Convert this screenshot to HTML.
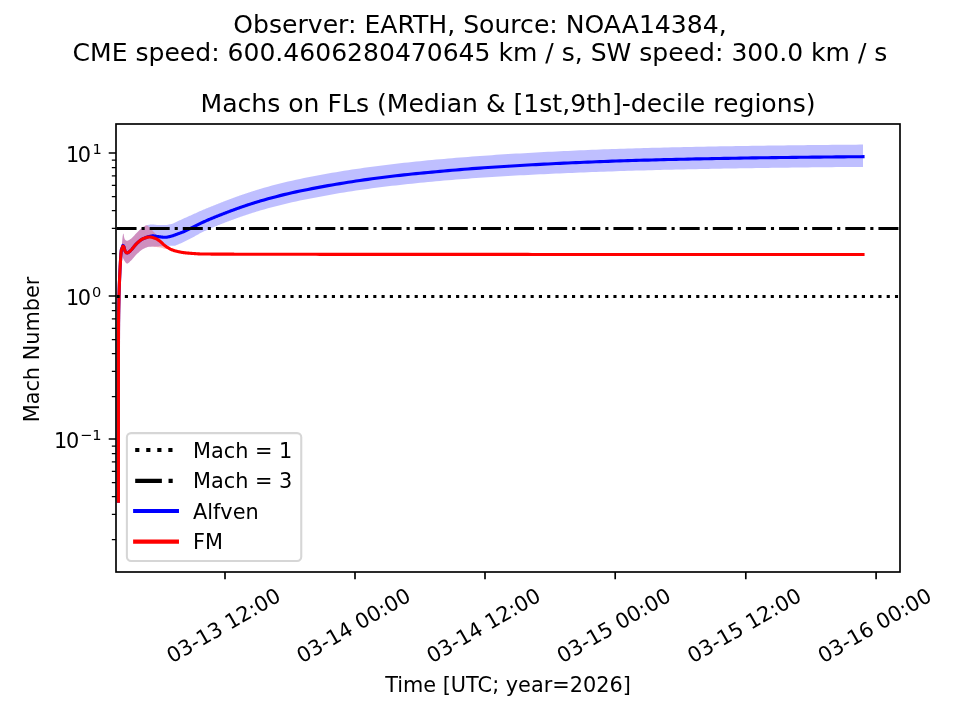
<!DOCTYPE html>
<html lang="en"><head><meta charset="utf-8"><title>Machs on FLs</title>
<style>html,body{margin:0;padding:0;background:#fff;overflow:hidden}svg{display:block}text{font-family:"DejaVu Sans","Liberation Sans",sans-serif;fill:#000}</style></head>
<body>
<svg width="960" height="720" viewBox="0 0 960 720">
<rect width="960" height="720" fill="#fff"/>
<defs><clipPath id="ax"><rect x="116.0" y="124.0" width="784.0" height="448.0"/></clipPath></defs>
<text x="480" y="33.2" font-size="25.1" text-anchor="middle">Observer: EARTH, Source: NOAA14384,</text>
<text x="480" y="61.2" font-size="25.06" text-anchor="middle">CME speed: 600.4606280470645 km / s, SW speed: 300.0 km / s</text>
<text x="508.00" y="111.8" font-size="25.1" text-anchor="middle">Machs on FLs (Median &amp; [1st,9th]-decile regions)</text>
<g clip-path="url(#ax)">
<path d="M121.60,249.00 L122.10,242.11 L122.60,237.10 L123.10,233.52 L123.60,234.23 L124.10,237.28 L124.60,239.04 L125.10,239.65 L125.60,240.14 L126.10,240.49 L126.60,240.70 L127.10,240.75 L127.60,240.68 L128.10,240.51 L128.60,240.28 L129.10,239.99 L129.60,239.67 L130.10,239.33 L130.60,239.00 L131.10,238.66 L131.60,238.27 L132.10,237.83 L132.60,237.35 L133.10,236.83 L133.60,236.29 L134.10,235.74 L134.60,235.17 L135.10,234.61 L135.60,234.05 L136.10,233.51 L136.60,232.99 L137.10,232.50 L137.60,232.02 L138.10,231.53 L138.60,231.04 L139.10,230.55 L139.60,230.06 L140.10,229.58 L140.60,229.11 L141.10,228.66 L141.60,228.23 L142.10,227.82 L142.60,227.44 L143.10,227.10 L143.60,226.78 L144.10,226.46 L144.60,226.15 L145.10,225.86 L145.60,225.60 L146.10,225.38 L146.60,225.20 L147.10,225.08 L147.60,224.98 L148.10,224.89 L148.60,224.81 L149.10,224.73 L149.60,224.66 L150.10,224.60 L150.60,224.56 L151.10,224.52 L151.60,224.51 L152.10,224.50 L152.60,224.51 L153.10,224.53 L153.60,224.57 L154.10,224.61 L154.60,224.67 L155.10,224.72 L155.60,224.78 L156.10,224.84 L156.60,224.90 L157.10,224.96 L157.60,225.00 L158.10,225.05 L158.60,225.08 L159.10,225.10 L159.60,225.10 L160.10,225.10 L160.60,225.10 L161.10,225.10 L161.60,225.10 L162.10,225.10 L162.60,225.10 L163.10,225.10 L163.60,225.10 L164.10,225.10 L164.60,225.10 L165.10,225.10 L165.60,225.10 L166.10,225.08 L166.60,225.01 L167.10,224.89 L167.60,224.76 L168.10,224.64 L168.60,224.54 L169.10,224.46 L169.60,224.37 L170.10,224.29 L170.60,224.20 L171.10,224.11 L171.60,224.00 L172.10,223.87 L172.60,223.71 L173.10,223.52 L173.60,223.29 L174.10,223.05 L174.60,222.79 L175.10,222.52 L175.60,222.25 L176.10,221.99 L176.60,221.75 L177.10,221.51 L177.60,221.28 L178.10,221.05 L178.60,220.82 L179.10,220.59 L179.60,220.36 L180.10,220.13 L180.60,219.90 L181.10,219.67 L181.60,219.44 L182.10,219.22 L182.60,218.99 L183.10,218.76 L183.60,218.53 L184.10,218.31 L184.60,218.08 L185.10,217.85 L185.60,217.63 L186.10,217.41 L186.60,217.18 L187.10,216.96 L187.60,216.74 L188.10,216.51 L188.60,216.29 L189.10,216.07 L189.60,215.85 L190.10,215.63 L190.60,215.40 L191.10,215.18 L191.60,214.96 L192.10,214.74 L192.60,214.51 L193.10,214.29 L193.60,214.06 L194.10,213.84 L194.60,213.61 L195.10,213.38 L195.60,213.15 L196.10,212.92 L196.60,212.69 L197.10,212.46 L197.60,212.24 L198.10,212.01 L198.60,211.78 L199.10,211.55 L199.60,211.33 L200.10,211.10 L200.60,210.88 L201.10,210.66 L201.60,210.44 L202.10,210.23 L202.60,210.01 L203.10,209.80 L203.60,209.59 L204.10,209.38 L204.60,209.17 L205.10,208.96 L205.60,208.76 L206.10,208.55 L206.60,208.35 L207.10,208.14 L207.60,207.94 L208.10,207.73 L208.60,207.53 L209.10,207.33 L209.60,207.13 L210.10,206.93 L210.60,206.73 L211.10,206.53 L211.60,206.33 L212.10,206.13 L212.60,205.93 L213.10,205.73 L213.60,205.53 L214.10,205.33 L214.60,205.13 L215.10,204.93 L215.60,204.73 L216.10,204.53 L216.60,204.33 L217.10,204.13 L217.60,203.93 L218.10,203.73 L218.60,203.53 L219.10,203.33 L219.60,203.14 L220.10,202.94 L220.60,202.74 L221.10,202.54 L221.60,202.34 L222.10,202.15 L222.60,201.95 L223.10,201.75 L223.60,201.56 L224.10,201.36 L224.60,201.17 L225.10,200.97 L225.60,200.78 L226.10,200.59 L226.60,200.40 L227.10,200.20 L227.60,200.01 L228.10,199.82 L228.60,199.63 L229.10,199.45 L229.60,199.26 L230.10,199.07 L230.60,198.89 L231.10,198.70 L231.60,198.51 L232.10,198.33 L232.60,198.14 L233.10,197.96 L233.60,197.78 L234.10,197.59 L234.60,197.41 L235.10,197.23 L235.60,197.05 L236.10,196.87 L236.60,196.69 L237.10,196.51 L237.60,196.33 L238.10,196.15 L238.60,195.97 L239.10,195.80 L239.60,195.62 L240.10,195.44 L240.60,195.27 L241.10,195.10 L241.60,194.92 L242.10,194.75 L242.60,194.58 L243.10,194.40 L243.60,194.23 L244.10,194.06 L244.60,193.89 L245.10,193.73 L245.60,193.56 L246.10,193.39 L246.60,193.22 L247.10,193.06 L247.60,192.89 L248.10,192.73 L248.60,192.56 L249.10,192.40 L249.60,192.24 L250.10,192.07 L250.60,191.91 L251.10,191.75 L251.60,191.59 L252.10,191.43 L252.60,191.27 L253.10,191.11 L253.60,190.95 L254.10,190.79 L254.60,190.64 L255.10,190.48 L255.60,190.32 L256.10,190.17 L256.60,190.02 L257.10,189.86 L257.60,189.71 L258.10,189.56 L258.60,189.41 L259.10,189.25 L259.60,189.11 L260.00,188.99 L264.00,187.81 L268.00,186.68 L272.00,185.59 L276.00,184.54 L280.00,183.52 L284.00,182.55 L288.00,181.60 L292.00,180.69 L296.00,179.80 L300.00,178.95 L304.00,178.12 L308.00,177.31 L312.00,176.52 L316.00,175.75 L320.00,175.00 L324.00,174.27 L328.00,173.55 L332.00,172.84 L336.00,172.16 L340.00,171.49 L344.00,170.83 L348.00,170.20 L352.00,169.58 L356.00,168.97 L360.00,168.39 L364.00,167.81 L368.00,167.25 L372.00,166.71 L376.00,166.18 L380.00,165.66 L384.00,165.16 L388.00,164.66 L392.00,164.18 L396.00,163.71 L400.00,163.26 L404.00,162.81 L408.00,162.38 L412.00,161.95 L416.00,161.54 L420.00,161.13 L424.00,160.74 L428.00,160.35 L432.00,159.97 L436.00,159.60 L440.00,159.24 L444.00,158.88 L448.00,158.53 L452.00,158.19 L456.00,157.86 L460.00,157.53 L464.00,157.21 L468.00,156.89 L472.00,156.58 L476.00,156.28 L480.00,155.99 L484.00,155.70 L488.00,155.42 L492.00,155.14 L496.00,154.87 L500.00,154.61 L504.00,154.35 L508.00,154.10 L512.00,153.85 L516.00,153.61 L520.00,153.38 L524.00,153.15 L528.00,152.92 L532.00,152.70 L536.00,152.48 L540.00,152.27 L544.00,152.06 L548.00,151.85 L552.00,151.65 L556.00,151.45 L560.00,151.26 L564.00,151.07 L568.00,150.88 L572.00,150.70 L576.00,150.52 L580.00,150.34 L584.00,150.17 L588.00,150.00 L592.00,149.84 L596.00,149.68 L600.00,149.53 L604.00,149.37 L608.00,149.23 L612.00,149.08 L616.00,148.94 L620.00,148.81 L624.00,148.68 L628.00,148.55 L632.00,148.43 L636.00,148.31 L640.00,148.19 L644.00,148.08 L648.00,147.97 L652.00,147.86 L656.00,147.76 L660.00,147.66 L664.00,147.56 L668.00,147.46 L672.00,147.36 L676.00,147.27 L680.00,147.18 L684.00,147.09 L688.00,147.00 L692.00,146.91 L696.00,146.83 L700.00,146.75 L704.00,146.67 L708.00,146.59 L712.00,146.51 L716.00,146.44 L720.00,146.36 L724.00,146.29 L728.00,146.22 L732.00,146.15 L736.00,146.09 L740.00,146.02 L744.00,145.96 L748.00,145.89 L752.00,145.83 L756.00,145.77 L760.00,145.71 L764.00,145.65 L768.00,145.60 L772.00,145.54 L776.00,145.49 L780.00,145.44 L784.00,145.39 L788.00,145.34 L792.00,145.29 L796.00,145.24 L800.00,145.19 L804.00,145.15 L808.00,145.10 L812.00,145.06 L816.00,145.01 L820.00,144.97 L824.00,144.93 L828.00,144.89 L832.00,144.85 L836.00,144.81 L840.00,144.78 L844.00,144.74 L848.00,144.71 L852.00,144.67 L856.00,144.64 L860.00,144.60 L863.00,144.58 L863.00,166.88 L860.00,166.90 L856.00,166.94 L852.00,166.97 L848.00,167.01 L844.00,167.04 L840.00,167.08 L836.00,167.11 L832.00,167.15 L828.00,167.19 L824.00,167.23 L820.00,167.27 L816.00,167.31 L812.00,167.36 L808.00,167.40 L804.00,167.45 L800.00,167.49 L796.00,167.54 L792.00,167.59 L788.00,167.64 L784.00,167.69 L780.00,167.74 L776.00,167.79 L772.00,167.84 L768.00,167.90 L764.00,167.95 L760.00,168.01 L756.00,168.07 L752.00,168.13 L748.00,168.19 L744.00,168.26 L740.00,168.32 L736.00,168.39 L732.00,168.45 L728.00,168.52 L724.00,168.59 L720.00,168.66 L716.00,168.74 L712.00,168.81 L708.00,168.89 L704.00,168.97 L700.00,169.05 L696.00,169.13 L692.00,169.21 L688.00,169.30 L684.00,169.39 L680.00,169.48 L676.00,169.57 L672.00,169.66 L668.00,169.76 L664.00,169.86 L660.00,169.96 L656.00,170.06 L652.00,170.16 L648.00,170.27 L644.00,170.38 L640.00,170.49 L636.00,170.61 L632.00,170.73 L628.00,170.85 L624.00,170.98 L620.00,171.11 L616.00,171.24 L612.00,171.38 L608.00,171.52 L604.00,171.66 L600.00,171.81 L596.00,171.95 L592.00,172.10 L588.00,172.26 L584.00,172.41 L580.00,172.57 L576.00,172.73 L572.00,172.90 L568.00,173.07 L564.00,173.24 L560.00,173.41 L556.00,173.59 L552.00,173.77 L548.00,173.95 L544.00,174.14 L540.00,174.33 L536.00,174.53 L532.00,174.73 L528.00,174.93 L524.00,175.13 L520.00,175.35 L516.00,175.56 L512.00,175.78 L508.00,176.01 L504.00,176.25 L500.00,176.49 L496.00,176.73 L492.00,176.98 L488.00,177.24 L484.00,177.51 L480.00,177.78 L476.00,178.06 L472.00,178.35 L468.00,178.65 L464.00,178.95 L460.00,179.26 L456.00,179.58 L452.00,179.91 L448.00,180.24 L444.00,180.59 L440.00,180.94 L436.00,181.30 L432.00,181.66 L428.00,182.04 L424.00,182.43 L420.00,182.82 L416.00,183.22 L412.00,183.63 L408.00,184.05 L404.00,184.48 L400.00,184.93 L396.00,185.38 L392.00,185.85 L388.00,186.32 L384.00,186.81 L380.00,187.32 L376.00,187.83 L372.00,188.36 L368.00,188.90 L364.00,189.46 L360.00,190.03 L356.00,190.62 L352.00,191.22 L348.00,191.83 L344.00,192.47 L340.00,193.12 L336.00,193.79 L332.00,194.47 L328.00,195.17 L324.00,195.89 L320.00,196.63 L316.00,197.38 L312.00,198.14 L308.00,198.92 L304.00,199.73 L300.00,200.56 L296.00,201.42 L292.00,202.30 L288.00,203.21 L284.00,204.16 L280.00,205.13 L276.00,206.14 L272.00,207.19 L268.00,208.29 L264.00,209.42 L260.00,210.59 L259.60,210.71 L259.10,210.86 L258.60,211.01 L258.10,211.16 L257.60,211.31 L257.10,211.47 L256.60,211.62 L256.10,211.77 L255.60,211.93 L255.10,212.08 L254.60,212.24 L254.10,212.40 L253.60,212.55 L253.10,212.71 L252.60,212.87 L252.10,213.03 L251.60,213.19 L251.10,213.35 L250.60,213.51 L250.10,213.68 L249.60,213.84 L249.10,214.00 L248.60,214.17 L248.10,214.33 L247.60,214.50 L247.10,214.66 L246.60,214.83 L246.10,214.99 L245.60,215.16 L245.10,215.33 L244.60,215.50 L244.10,215.67 L243.60,215.84 L243.10,216.01 L242.60,216.18 L242.10,216.35 L241.60,216.52 L241.10,216.70 L240.60,216.87 L240.10,217.05 L239.60,217.22 L239.10,217.40 L238.60,217.58 L238.10,217.75 L237.60,217.93 L237.10,218.11 L236.60,218.29 L236.10,218.47 L235.60,218.65 L235.10,218.83 L234.60,219.01 L234.10,219.20 L233.60,219.38 L233.10,219.56 L232.60,219.75 L232.10,219.93 L231.60,220.11 L231.10,220.30 L230.60,220.49 L230.10,220.67 L229.60,220.86 L229.10,221.05 L228.60,221.23 L228.10,221.42 L227.60,221.61 L227.10,221.80 L226.60,221.99 L226.10,222.17 L225.60,222.36 L225.10,222.56 L224.60,222.75 L224.10,222.94 L223.60,223.13 L223.10,223.32 L222.60,223.52 L222.10,223.71 L221.60,223.91 L221.10,224.10 L220.60,224.30 L220.10,224.50 L219.60,224.70 L219.10,224.90 L218.60,225.10 L218.10,225.30 L217.60,225.50 L217.10,225.70 L216.60,225.91 L216.10,226.11 L215.60,226.32 L215.10,226.53 L214.60,226.74 L214.10,226.95 L213.60,227.15 L213.10,227.36 L212.60,227.58 L212.10,227.79 L211.60,228.00 L211.10,228.21 L210.60,228.43 L210.10,228.64 L209.60,228.86 L209.10,229.08 L208.60,229.29 L208.10,229.51 L207.60,229.74 L207.10,229.96 L206.60,230.19 L206.10,230.41 L205.60,230.64 L205.10,230.87 L204.60,231.10 L204.10,231.34 L203.60,231.58 L203.10,231.82 L202.60,232.06 L202.10,232.30 L201.60,232.55 L201.10,232.80 L200.60,233.06 L200.10,233.33 L199.60,233.60 L199.10,233.87 L198.60,234.15 L198.10,234.43 L197.60,234.71 L197.10,234.99 L196.60,235.28 L196.10,235.56 L195.60,235.84 L195.10,236.12 L194.60,236.40 L194.10,236.67 L193.60,236.94 L193.10,237.21 L192.60,237.47 L192.10,237.73 L191.60,237.99 L191.10,238.25 L190.60,238.51 L190.10,238.77 L189.60,239.02 L189.10,239.28 L188.60,239.53 L188.10,239.78 L187.60,240.03 L187.10,240.28 L186.60,240.53 L186.10,240.77 L185.60,241.01 L185.10,241.25 L184.60,241.49 L184.10,241.73 L183.60,241.97 L183.10,242.21 L182.60,242.45 L182.10,242.68 L181.60,242.92 L181.10,243.15 L180.60,243.38 L180.10,243.61 L179.60,243.83 L179.10,244.05 L178.60,244.26 L178.10,244.46 L177.60,244.66 L177.10,244.85 L176.60,245.04 L176.10,245.24 L175.60,245.45 L175.10,245.64 L174.60,245.76 L174.10,245.80 L173.60,245.80 L173.10,245.80 L172.60,245.80 L172.10,245.80 L171.60,245.80 L171.10,245.80 L170.60,245.80 L170.10,245.80 L169.60,245.80 L169.10,245.80 L168.60,245.80 L168.10,245.80 L167.60,245.81 L167.10,245.83 L166.60,245.85 L166.10,245.88 L165.60,245.92 L165.10,245.96 L164.60,246.00 L164.10,246.05 L163.60,246.09 L163.10,246.13 L162.60,246.16 L162.10,246.19 L161.60,246.22 L161.10,246.25 L160.60,246.28 L160.10,246.30 L159.60,246.33 L159.10,246.35 L158.60,246.38 L158.10,246.40 L157.60,246.42 L157.10,246.44 L156.60,246.47 L156.10,246.49 L155.60,246.51 L155.10,246.52 L154.60,246.54 L154.10,246.55 L153.60,246.56 L153.10,246.57 L152.60,246.58 L152.10,246.60 L151.60,246.61 L151.10,246.63 L150.60,246.65 L150.10,246.67 L149.60,246.69 L149.10,246.73 L148.60,246.81 L148.10,246.91 L147.60,247.04 L147.10,247.20 L146.60,247.38 L146.10,247.57 L145.60,247.79 L145.10,248.01 L144.60,248.24 L144.10,248.48 L143.60,248.73 L143.10,248.98 L142.60,249.25 L142.10,249.56 L141.60,249.90 L141.10,250.27 L140.60,250.67 L140.10,251.08 L139.60,251.51 L139.10,251.96 L138.60,252.41 L138.10,252.88 L137.60,253.34 L137.10,253.81 L136.60,254.28 L136.10,254.80 L135.60,255.34 L135.10,255.91 L134.60,256.49 L134.10,257.09 L133.60,257.68 L133.10,258.27 L132.60,258.85 L132.10,259.41 L131.60,259.94 L131.10,260.43 L130.60,260.89 L130.10,261.37 L129.60,261.88 L129.10,262.38 L128.60,262.83 L128.10,263.21 L127.60,263.48 L127.10,263.60 L126.60,263.48 L126.10,263.06 L125.60,262.41 L125.10,261.66 L124.60,260.90 L124.10,260.18 L123.60,259.36 L123.10,258.27 L122.60,256.46 L122.10,253.58 L121.60,250.00Z" fill="#0000ff" fill-opacity="0.25"/>
<path d="M121.60,249.00 L122.10,242.11 L122.60,237.10 L123.10,233.52 L123.60,234.23 L124.10,237.28 L124.60,239.04 L125.10,239.65 L125.60,240.14 L126.10,240.49 L126.60,240.70 L127.10,240.75 L127.60,240.68 L128.10,240.51 L128.60,240.28 L129.10,239.99 L129.60,239.67 L130.10,239.33 L130.60,239.00 L131.10,238.66 L131.60,238.27 L132.10,237.83 L132.60,237.35 L133.10,236.83 L133.60,236.29 L134.10,235.74 L134.60,235.17 L135.10,234.61 L135.60,234.05 L136.10,233.51 L136.60,232.99 L137.10,232.50 L137.60,232.02 L138.10,231.53 L138.60,231.04 L139.10,230.55 L139.60,230.06 L140.10,229.58 L140.60,229.11 L141.10,228.66 L141.60,228.23 L142.10,227.82 L142.60,227.44 L143.10,227.10 L143.60,226.78 L144.10,226.46 L144.60,226.15 L145.10,225.86 L145.60,225.60 L146.10,225.38 L146.60,225.20 L147.00,225.30 L147.50,225.72 L148.00,226.14 L148.50,226.59 L149.00,227.04 L149.50,227.50 L150.00,227.98 L150.50,228.46 L151.00,228.97 L151.50,229.48 L152.00,230.00 L152.50,230.53 L153.00,231.08 L153.50,231.63 L154.00,232.20 L154.50,232.77 L155.00,233.34 L155.50,233.91 L156.00,234.49 L156.50,235.08 L157.00,235.68 L157.50,236.28 L158.00,236.87 L158.50,237.45 L159.00,238.00 L159.50,238.52 L160.00,239.02 L160.50,239.50 L161.00,239.98 L161.50,240.48 L162.00,241.00 L162.50,241.56 L163.00,242.14 L163.50,242.74 L164.00,243.35 L164.50,243.94 L165.00,244.50 L165.50,245.04 L166.00,245.58 L166.50,246.10 L167.00,246.61 L167.50,247.12 L168.00,247.61 L168.00,249.00 L167.50,248.99 L167.00,248.98 L166.50,248.97 L166.00,248.95 L165.50,248.93 L165.00,248.90 L164.50,248.82 L164.00,248.66 L163.50,248.46 L163.00,248.24 L162.50,248.04 L162.00,247.90 L161.50,247.80 L161.00,247.70 L160.50,247.61 L160.00,247.52 L159.50,247.44 L159.00,247.36 L158.50,247.29 L158.00,247.22 L157.50,247.16 L157.00,247.11 L156.50,247.06 L156.00,247.02 L155.50,246.98 L155.00,246.95 L154.50,246.91 L154.00,246.88 L153.50,246.84 L153.00,246.81 L152.50,246.79 L152.00,246.76 L151.50,246.74 L151.00,246.72 L150.50,246.71 L150.00,246.70 L149.50,246.70 L149.10,246.73 L148.60,246.81 L148.10,246.91 L147.60,247.04 L147.10,247.20 L146.60,247.38 L146.10,247.57 L145.60,247.79 L145.10,248.01 L144.60,248.24 L144.10,248.48 L143.60,248.73 L143.10,248.98 L142.60,249.25 L142.10,249.56 L141.60,249.90 L141.10,250.27 L140.60,250.67 L140.10,251.08 L139.60,251.51 L139.10,251.96 L138.60,252.41 L138.10,252.88 L137.60,253.34 L137.10,253.81 L136.60,254.28 L136.10,254.80 L135.60,255.34 L135.10,255.91 L134.60,256.49 L134.10,257.09 L133.60,257.68 L133.10,258.27 L132.60,258.85 L132.10,259.41 L131.60,259.94 L131.10,260.43 L130.60,260.89 L130.10,261.37 L129.60,261.88 L129.10,262.38 L128.60,262.83 L128.10,263.21 L127.60,263.48 L127.10,263.60 L126.60,263.48 L126.10,263.06 L125.60,262.41 L125.10,261.66 L124.60,260.90 L124.10,260.18 L123.60,259.36 L123.10,258.27 L122.60,256.46 L122.10,253.58 L121.60,250.00Z" fill="#ff0000" fill-opacity="0.25"/>
<path d="M118.40,501.30 L118.40,496.97 L118.40,492.63 L118.40,488.30 L118.40,483.96 L118.40,479.63 L118.40,475.29 L118.40,470.96 L118.40,466.63 L118.40,462.29 L118.40,457.96 L118.40,453.62 L118.40,449.29 L118.40,444.96 L118.40,440.62 L118.40,436.29 L118.40,431.95 L118.40,427.62 L118.40,423.28 L118.40,418.95 L118.40,414.62 L118.40,410.28 L118.40,405.95 L118.40,401.61 L118.40,397.28 L118.40,392.95 L118.40,388.61 L118.40,384.28 L118.40,379.94 L118.40,375.61 L118.40,371.27 L118.41,366.94 L118.41,362.61 L118.42,358.27 L118.43,353.94 L118.44,349.60 L118.45,345.27 L118.46,340.94 L118.48,336.60 L118.49,332.27 L118.51,327.93 L118.54,323.60 L118.59,319.26 L118.64,314.93 L118.71,310.60 L118.79,306.26 L118.88,301.93 L118.97,297.60 L119.07,293.26 L119.20,288.93 L119.35,284.60 L119.53,280.27 L119.72,275.94 L119.92,271.61 L120.13,267.28 L120.37,262.95 L120.64,258.61 L120.93,254.25 L121.34,249.85 L122.90,245.40 L123.40,245.77 L123.90,246.65 L124.40,248.78 L124.90,250.53 L125.40,251.69 L125.90,252.27 L126.40,252.69 L126.90,252.89 L127.40,252.84 L127.90,252.66 L128.40,252.40 L128.90,252.12 L129.40,251.73 L129.90,251.25 L130.40,250.75 L130.90,250.25 L131.40,249.73 L131.90,249.17 L132.40,248.58 L132.90,247.98 L133.40,247.36 L133.90,246.74 L134.40,246.12 L134.90,245.51 L135.40,244.92 L135.90,244.35 L136.40,243.83 L136.90,243.34 L137.40,242.89 L137.90,242.44 L138.40,241.99 L138.90,241.55 L139.40,241.11 L139.90,240.70 L140.40,240.30 L140.90,239.93 L141.40,239.58 L141.90,239.27 L142.40,238.99 L142.90,238.74 L143.40,238.54 L143.90,238.35 L144.40,238.17 L144.90,237.98 L145.40,237.81 L145.90,237.65 L146.00,237.50 L146.50,237.32 L147.00,237.14 L147.50,236.97 L148.00,236.81 L148.50,236.65 L149.00,236.52 L149.50,236.40 L150.00,236.29 L150.50,236.18 L151.00,236.08 L151.50,235.99 L152.00,235.93 L152.50,235.90 L153.00,235.91 L153.50,235.93 L154.00,235.97 L154.50,236.03 L155.00,236.10 L155.50,236.17 L156.00,236.25 L156.50,236.34 L157.00,236.42 L157.50,236.51 L158.00,236.58 L158.50,236.65 L159.00,236.71 L159.50,236.77 L160.00,236.83 L160.50,236.90 L161.00,236.96 L161.50,237.03 L162.00,237.09 L162.50,237.15 L163.00,237.20 L163.50,237.24 L164.00,237.27 L164.50,237.29 L165.00,237.30 L165.50,237.29 L166.00,237.25 L166.50,237.19 L167.00,237.12 L167.50,237.03 L168.00,236.93 L168.50,236.83 L169.00,236.72 L169.50,236.61 L170.00,236.50 L170.50,236.39 L171.00,236.26 L171.50,236.12 L172.00,235.97 L172.50,235.82 L173.00,235.65 L173.50,235.48 L174.00,235.30 L174.50,235.12 L175.00,234.93 L175.50,234.75 L176.00,234.56 L176.50,234.38 L177.00,234.20 L177.50,234.02 L178.00,233.84 L178.50,233.65 L179.00,233.47 L179.50,233.29 L180.00,233.10 L180.50,232.91 L181.00,232.72 L181.50,232.53 L182.00,232.34 L182.50,232.14 L183.00,231.94 L183.50,231.73 L184.00,231.53 L184.50,231.31 L185.00,231.10 L185.50,230.88 L186.00,230.65 L186.50,230.42 L187.00,230.18 L187.50,229.94 L188.00,229.70 L188.50,229.45 L189.00,229.19 L189.50,228.94 L190.00,228.68 L190.50,228.42 L191.00,228.16 L191.50,227.90 L192.00,227.65 L192.50,227.39 L193.00,227.14 L193.50,226.88 L194.00,226.63 L194.50,226.37 L195.00,226.12 L195.50,225.86 L196.00,225.61 L196.50,225.36 L197.00,225.10 L197.50,224.85 L198.00,224.60 L198.50,224.35 L199.00,224.10 L199.50,223.86 L200.00,223.62 L200.50,223.38 L201.00,223.14 L201.50,222.91 L202.00,222.67 L202.50,222.44 L203.00,222.21 L203.50,221.98 L204.00,221.76 L204.50,221.53 L205.00,221.31 L205.50,221.08 L206.00,220.86 L206.50,220.64 L207.00,220.42 L207.50,220.20 L208.00,219.99 L208.50,219.77 L209.00,219.56 L209.50,219.34 L210.00,219.13 L210.50,218.92 L211.00,218.71 L211.50,218.50 L212.00,218.30 L212.50,218.09 L213.00,217.88 L213.50,217.68 L214.00,217.48 L214.50,217.27 L215.00,217.07 L215.50,216.87 L216.00,216.67 L216.50,216.47 L217.00,216.27 L217.50,216.07 L218.00,215.87 L218.50,215.67 L219.00,215.47 L219.50,215.27 L220.00,215.07 L220.50,214.88 L221.00,214.68 L221.50,214.48 L222.00,214.29 L222.50,214.09 L223.00,213.90 L223.50,213.70 L224.00,213.51 L224.50,213.31 L225.00,213.12 L225.50,212.93 L226.00,212.73 L226.50,212.54 L227.00,212.35 L227.50,212.16 L228.00,211.97 L228.50,211.78 L229.00,211.59 L229.50,211.40 L230.00,211.21 L230.50,211.02 L231.00,210.83 L231.50,210.65 L232.00,210.46 L232.50,210.28 L233.00,210.09 L233.50,209.91 L234.00,209.73 L234.50,209.54 L235.00,209.36 L235.50,209.18 L236.00,209.00 L236.50,208.82 L237.00,208.64 L237.50,208.46 L238.00,208.28 L238.50,208.11 L239.00,207.93 L239.50,207.75 L240.00,207.58 L240.50,207.40 L241.00,207.23 L241.50,207.06 L242.00,206.88 L242.50,206.71 L243.00,206.54 L243.50,206.37 L244.00,206.20 L244.50,206.03 L245.00,205.86 L245.50,205.69 L246.00,205.52 L246.50,205.36 L247.00,205.19 L247.50,205.02 L248.00,204.86 L248.50,204.69 L249.00,204.53 L249.50,204.37 L250.00,204.20 L250.50,204.04 L251.00,203.88 L251.50,203.72 L252.00,203.56 L252.50,203.40 L253.00,203.24 L253.50,203.08 L254.00,202.93 L254.50,202.77 L255.00,202.61 L255.50,202.46 L256.00,202.30 L256.50,202.15 L257.00,201.99 L257.50,201.84 L258.00,201.69 L258.50,201.54 L259.00,201.39 L259.50,201.24 L260.00,201.09 L264.00,199.91 L268.00,198.78 L272.00,197.69 L276.00,196.64 L280.00,195.62 L284.00,194.64 L288.00,193.70 L292.00,192.79 L296.00,191.90 L300.00,191.05 L304.00,190.21 L308.00,189.41 L312.00,188.62 L316.00,187.85 L320.00,187.10 L324.00,186.37 L328.00,185.65 L332.00,184.94 L336.00,184.26 L340.00,183.59 L344.00,182.93 L348.00,182.30 L352.00,181.68 L356.00,181.07 L360.00,180.49 L364.00,179.91 L368.00,179.35 L372.00,178.81 L376.00,178.28 L380.00,177.76 L384.00,177.26 L388.00,176.76 L392.00,176.28 L396.00,175.81 L400.00,175.36 L404.00,174.91 L408.00,174.48 L412.00,174.05 L416.00,173.64 L420.00,173.23 L424.00,172.84 L428.00,172.45 L432.00,172.07 L436.00,171.70 L440.00,171.34 L444.00,170.98 L448.00,170.63 L452.00,170.29 L456.00,169.96 L460.00,169.63 L464.00,169.31 L468.00,168.99 L472.00,168.68 L476.00,168.38 L480.00,168.09 L484.00,167.80 L488.00,167.52 L492.00,167.24 L496.00,166.97 L500.00,166.71 L504.00,166.45 L508.00,166.20 L512.00,165.95 L516.00,165.71 L520.00,165.48 L524.00,165.25 L528.00,165.02 L532.00,164.80 L536.00,164.58 L540.00,164.37 L544.00,164.16 L548.00,163.95 L552.00,163.75 L556.00,163.55 L560.00,163.36 L564.00,163.17 L568.00,162.98 L572.00,162.80 L576.00,162.62 L580.00,162.44 L584.00,162.27 L588.00,162.10 L592.00,161.94 L596.00,161.78 L600.00,161.63 L604.00,161.47 L608.00,161.33 L612.00,161.18 L616.00,161.04 L620.00,160.91 L624.00,160.78 L628.00,160.65 L632.00,160.53 L636.00,160.41 L640.00,160.29 L644.00,160.18 L648.00,160.07 L652.00,159.96 L656.00,159.86 L660.00,159.76 L664.00,159.66 L668.00,159.56 L672.00,159.46 L676.00,159.37 L680.00,159.28 L684.00,159.19 L688.00,159.10 L692.00,159.01 L696.00,158.93 L700.00,158.85 L704.00,158.77 L708.00,158.69 L712.00,158.61 L716.00,158.54 L720.00,158.46 L724.00,158.39 L728.00,158.32 L732.00,158.25 L736.00,158.19 L740.00,158.12 L744.00,158.06 L748.00,157.99 L752.00,157.93 L756.00,157.87 L760.00,157.81 L764.00,157.75 L768.00,157.70 L772.00,157.64 L776.00,157.59 L780.00,157.54 L784.00,157.49 L788.00,157.44 L792.00,157.39 L796.00,157.34 L800.00,157.29 L804.00,157.25 L808.00,157.20 L812.00,157.16 L816.00,157.11 L820.00,157.07 L824.00,157.03 L828.00,156.99 L832.00,156.95 L836.00,156.91 L840.00,156.88 L844.00,156.84 L848.00,156.81 L852.00,156.77 L856.00,156.74 L860.00,156.70 L863.00,156.68" fill="none" stroke="#0000ff" stroke-width="3.125" stroke-linecap="square" stroke-linejoin="round"/>
<path d="M118.40,501.30 L118.40,496.97 L118.40,492.63 L118.40,488.30 L118.40,483.96 L118.40,479.63 L118.40,475.29 L118.40,470.96 L118.40,466.63 L118.40,462.29 L118.40,457.96 L118.40,453.62 L118.40,449.29 L118.40,444.96 L118.40,440.62 L118.40,436.29 L118.40,431.95 L118.40,427.62 L118.40,423.28 L118.40,418.95 L118.40,414.62 L118.40,410.28 L118.40,405.95 L118.40,401.61 L118.40,397.28 L118.40,392.95 L118.40,388.61 L118.40,384.28 L118.40,379.94 L118.40,375.61 L118.40,371.27 L118.41,366.94 L118.41,362.61 L118.42,358.27 L118.43,353.94 L118.44,349.60 L118.45,345.27 L118.46,340.94 L118.48,336.60 L118.49,332.27 L118.51,327.93 L118.54,323.60 L118.59,319.26 L118.64,314.93 L118.71,310.60 L118.79,306.26 L118.88,301.93 L118.97,297.60 L119.07,293.26 L119.20,288.93 L119.35,284.60 L119.53,280.27 L119.72,275.94 L119.92,271.61 L120.13,267.28 L120.37,262.95 L120.64,258.63 L120.93,254.30 L121.34,249.98 L122.90,246.10 L123.40,246.36 L123.90,247.00 L124.40,248.93 L124.90,250.57 L125.40,251.70 L125.90,252.27 L126.40,252.69 L126.90,252.89 L127.40,252.84 L127.90,252.66 L128.40,252.40 L128.90,252.12 L129.40,251.73 L129.90,251.25 L130.40,250.75 L130.90,250.25 L131.40,249.73 L131.90,249.17 L132.40,248.58 L132.90,247.98 L133.40,247.36 L133.90,246.74 L134.40,246.12 L134.90,245.51 L135.40,244.92 L135.90,244.35 L136.40,243.83 L136.90,243.34 L137.40,242.89 L137.90,242.44 L138.40,241.99 L138.90,241.55 L139.40,241.11 L139.90,240.70 L140.40,240.30 L140.90,239.93 L141.40,239.58 L141.90,239.27 L142.40,238.99 L142.90,238.74 L143.40,238.54 L143.90,238.35 L144.40,238.17 L144.90,237.98 L145.40,237.81 L145.90,237.65 L146.40,237.50 L146.90,237.36 L147.40,237.24 L147.90,237.14 L148.40,237.07 L148.90,237.02 L149.40,237.00 L149.90,237.01 L150.40,237.05 L150.90,237.11 L151.40,237.20 L151.90,237.31 L152.40,237.44 L152.90,237.59 L153.40,237.75 L153.90,237.92 L154.40,238.10 L154.90,238.28 L155.40,238.47 L155.90,238.66 L156.40,238.88 L156.90,239.15 L157.40,239.45 L157.90,239.77 L158.40,240.12 L158.90,240.48 L159.40,240.85 L159.90,241.23 L160.40,241.61 L160.90,242.03 L161.40,242.47 L161.90,242.94 L162.40,243.41 L162.90,243.88 L163.40,244.33 L163.90,244.76 L164.40,245.16 L164.90,245.54 L165.40,245.93 L165.90,246.30 L166.40,246.66 L166.90,247.01 L167.40,247.34 L167.90,247.66 L168.40,247.96 L168.90,248.25 L169.40,248.53 L169.90,248.80 L170.40,249.06 L170.90,249.30 L171.40,249.54 L171.90,249.76 L172.40,249.96 L172.90,250.15 L173.40,250.33 L173.90,250.50 L174.40,250.66 L174.90,250.82 L175.40,250.96 L175.90,251.10 L176.40,251.23 L176.90,251.35 L177.40,251.46 L177.90,251.57 L178.40,251.68 L178.90,251.79 L179.40,251.89 L179.90,251.99 L180.40,252.09 L180.90,252.18 L181.40,252.27 L181.90,252.36 L182.40,252.44 L182.90,252.52 L183.40,252.59 L183.90,252.66 L184.40,252.73 L184.90,252.79 L185.40,252.85 L185.90,252.90 L186.40,252.95 L186.90,253.00 L187.40,253.05 L187.90,253.09 L188.40,253.14 L188.90,253.18 L189.40,253.22 L189.90,253.26 L190.40,253.29 L190.90,253.33 L191.40,253.37 L191.90,253.40 L192.40,253.44 L192.90,253.47 L193.40,253.51 L193.90,253.54 L194.40,253.58 L194.90,253.62 L195.40,253.66 L195.90,253.70 L196.40,253.73 L196.90,253.77 L197.40,253.81 L197.90,253.84 L198.40,253.87 L198.90,253.90 L199.40,253.93 L199.90,253.95 L200.40,253.97 L200.90,253.99 L201.40,254.00 L201.90,254.00 L202.40,254.01 L202.90,254.01 L203.40,254.01 L203.90,254.02 L204.40,254.02 L204.90,254.02 L205.40,254.03 L205.90,254.03 L206.40,254.03 L206.90,254.04 L207.40,254.04 L207.90,254.05 L208.40,254.05 L208.90,254.05 L209.40,254.06 L209.90,254.06 L210.40,254.06 L210.90,254.07 L211.40,254.07 L211.90,254.07 L212.40,254.08 L212.90,254.08 L213.40,254.08 L213.90,254.08 L214.40,254.09 L214.90,254.09 L215.40,254.09 L215.90,254.10 L216.40,254.10 L216.90,254.10 L217.40,254.11 L217.90,254.11 L218.40,254.11 L218.90,254.11 L219.40,254.12 L219.90,254.12 L220.40,254.12 L220.90,254.12 L221.40,254.13 L221.90,254.13 L222.40,254.13 L222.90,254.13 L223.40,254.14 L223.90,254.14 L224.40,254.14 L224.90,254.14 L225.40,254.15 L225.90,254.15 L226.40,254.15 L226.90,254.15 L227.40,254.16 L227.90,254.16 L228.40,254.16 L228.90,254.16 L229.40,254.16 L229.90,254.17 L230.40,254.17 L230.90,254.17 L231.40,254.17 L231.90,254.18 L232.40,254.18 L232.90,254.18 L233.40,254.18 L233.90,254.18 L234.40,254.19 L234.90,254.19 L235.40,254.19 L235.90,254.19 L236.40,254.19 L236.90,254.19 L237.40,254.20 L237.90,254.20 L238.40,254.20 L238.90,254.20 L239.40,254.20 L239.90,254.20 L240.40,254.21 L240.90,254.21 L241.40,254.21 L241.90,254.21 L242.40,254.21 L242.90,254.21 L243.40,254.22 L243.90,254.22 L244.40,254.22 L244.90,254.22 L245.40,254.22 L245.90,254.22 L246.40,254.22 L246.90,254.23 L247.40,254.23 L247.90,254.23 L248.40,254.23 L248.90,254.23 L249.40,254.23 L249.90,254.23 L250.40,254.23 L250.90,254.24 L251.40,254.24 L251.90,254.24 L252.40,254.24 L252.90,254.24 L253.40,254.24 L253.90,254.24 L254.40,254.24 L254.90,254.25 L255.40,254.25 L255.90,254.25 L256.40,254.25 L256.90,254.25 L257.40,254.25 L257.90,254.25 L258.40,254.25 L258.90,254.25 L259.40,254.25 L259.90,254.26 L260.00,254.26 L264.00,254.26 L268.00,254.27 L272.00,254.27 L276.00,254.28 L280.00,254.28 L284.00,254.29 L288.00,254.29 L292.00,254.29 L296.00,254.30 L300.00,254.30 L304.00,254.30 L308.00,254.31 L312.00,254.31 L316.00,254.31 L320.00,254.32 L324.00,254.32 L328.00,254.32 L332.00,254.32 L336.00,254.33 L340.00,254.33 L344.00,254.33 L348.00,254.34 L352.00,254.34 L356.00,254.34 L360.00,254.34 L364.00,254.35 L368.00,254.35 L372.00,254.35 L376.00,254.35 L380.00,254.36 L384.00,254.36 L388.00,254.36 L392.00,254.36 L396.00,254.37 L400.00,254.37 L404.00,254.37 L408.00,254.37 L412.00,254.38 L416.00,254.38 L420.00,254.38 L424.00,254.38 L428.00,254.39 L432.00,254.39 L436.00,254.39 L440.00,254.39 L444.00,254.39 L448.00,254.40 L452.00,254.40 L456.00,254.40 L460.00,254.40 L464.00,254.41 L468.00,254.41 L472.00,254.41 L476.00,254.41 L480.00,254.41 L484.00,254.42 L488.00,254.42 L492.00,254.42 L496.00,254.42 L500.00,254.42 L504.00,254.42 L508.00,254.43 L512.00,254.43 L516.00,254.43 L520.00,254.43 L524.00,254.43 L528.00,254.43 L532.00,254.44 L536.00,254.44 L540.00,254.44 L544.00,254.44 L548.00,254.44 L552.00,254.44 L556.00,254.45 L560.00,254.45 L564.00,254.45 L568.00,254.45 L572.00,254.45 L576.00,254.45 L580.00,254.45 L584.00,254.46 L588.00,254.46 L592.00,254.46 L596.00,254.46 L600.00,254.46 L604.00,254.46 L608.00,254.46 L612.00,254.46 L616.00,254.47 L620.00,254.47 L624.00,254.47 L628.00,254.47 L632.00,254.47 L636.00,254.47 L640.00,254.47 L644.00,254.47 L648.00,254.47 L652.00,254.48 L656.00,254.48 L660.00,254.48 L664.00,254.48 L668.00,254.48 L672.00,254.48 L676.00,254.48 L680.00,254.48 L684.00,254.48 L688.00,254.48 L692.00,254.48 L696.00,254.48 L700.00,254.49 L704.00,254.49 L708.00,254.49 L712.00,254.49 L716.00,254.49 L720.00,254.49 L724.00,254.49 L728.00,254.49 L732.00,254.49 L736.00,254.49 L740.00,254.49 L744.00,254.49 L748.00,254.49 L752.00,254.49 L756.00,254.49 L760.00,254.49 L764.00,254.49 L768.00,254.50 L772.00,254.50 L776.00,254.50 L780.00,254.50 L784.00,254.50 L788.00,254.50 L792.00,254.50 L796.00,254.50 L800.00,254.50 L804.00,254.50 L808.00,254.50 L812.00,254.50 L816.00,254.50 L820.00,254.50 L824.00,254.50 L828.00,254.50 L832.00,254.50 L836.00,254.50 L840.00,254.50 L844.00,254.50 L848.00,254.50 L852.00,254.50 L856.00,254.50 L860.00,254.50 L863.00,254.50" fill="none" stroke="#ff0000" stroke-width="3.125" stroke-linecap="square" stroke-linejoin="round"/>
<path d="M116.55,296.50H900.0" stroke="#000" stroke-width="3.125" stroke-dasharray="3.125 5.156" fill="none"/>
<path d="M116.55,228.50H900.0" stroke="#000" stroke-width="3.125" stroke-dasharray="20 5 3.125 5" fill="none"/>
</g>
<path d="M225.0,572.0v7.29M355.0,572.0v7.29M485.0,572.0v7.29M615.2,572.0v7.29M745.8,572.0v7.29M876.1,572.0v7.29M116.0,153.0h-7.29M116.0,296.0h-7.29M116.0,439.0h-7.29" stroke="#000" stroke-width="1.667" fill="none"/>
<path d="M116.0,539.60h-4.17M116.0,514.42h-4.17M116.0,496.56h-4.17M116.0,482.70h-4.17M116.0,471.37h-4.17M116.0,461.80h-4.17M116.0,453.51h-4.17M116.0,446.19h-4.17M116.0,396.60h-4.17M116.0,371.42h-4.17M116.0,353.56h-4.17M116.0,339.70h-4.17M116.0,328.37h-4.17M116.0,318.80h-4.17M116.0,310.51h-4.17M116.0,303.19h-4.17M116.0,253.60h-4.17M116.0,228.42h-4.17M116.0,210.56h-4.17M116.0,196.70h-4.17M116.0,185.37h-4.17M116.0,175.80h-4.17M116.0,167.51h-4.17M116.0,160.19h-4.17" stroke="#000" stroke-width="1.25" fill="none"/>
<rect x="116.0" y="124.0" width="784.0" height="448.0" fill="none" stroke="#000" stroke-width="1.667" stroke-linejoin="miter"/>
<text y="162.00" font-size="20.833"><tspan x="66.0">1</tspan><tspan x="77.75">0</tspan><tspan x="92.5" y="153.65" font-size="14.583">1</tspan></text>
<text y="305.00" font-size="20.833"><tspan x="66.0">1</tspan><tspan x="77.75">0</tspan><tspan x="92.1" y="296.65" font-size="14.583">0</tspan></text>
<text y="448.00" font-size="20.833"><tspan x="53.95">1</tspan><tspan x="66.1">0</tspan><tspan x="79.9" y="439.65" font-size="14.583">−</tspan><tspan x="92.35" y="439.65" font-size="14.583">1</tspan></text>
<text transform="translate(224.40,627.1) rotate(-30)" y="5.4" font-size="20.833" text-anchor="middle">03-13 12:00</text>
<text transform="translate(354.40,627.1) rotate(-30)" y="5.4" font-size="20.833" text-anchor="middle">03-14 00:00</text>
<text transform="translate(484.40,627.1) rotate(-30)" y="5.4" font-size="20.833" text-anchor="middle">03-14 12:00</text>
<text transform="translate(614.60,627.1) rotate(-30)" y="5.4" font-size="20.833" text-anchor="middle">03-15 00:00</text>
<text transform="translate(745.20,627.1) rotate(-30)" y="5.4" font-size="20.833" text-anchor="middle">03-15 12:00</text>
<text transform="translate(875.50,627.1) rotate(-30)" y="5.4" font-size="20.833" text-anchor="middle">03-16 00:00</text>
<text x="508.00" y="692.3" font-size="20.833" text-anchor="middle">Time [UTC; year=2026]</text>
<text transform="translate(39.3,349.50) rotate(-90)" font-size="20.833" text-anchor="middle">Mach Number</text>
<rect x="126.9" y="433.1" width="174.35" height="127.89999999999998" rx="4.17" ry="4.17" fill="#fff" fill-opacity="0.8" stroke="#cccccc" stroke-opacity="0.8" stroke-width="2.083"/>
<path d="M135.2,450.0H176.9" stroke="#000" stroke-width="4.167" stroke-dasharray="4.167 6.875" fill="none"/>
<path d="M135.2,480.9H176.9" stroke="#000" stroke-width="4.167" stroke-dasharray="26.67 6.67 4.167 6.67" fill="none"/>
<path d="M135.2,511.0H176.9" stroke="#0000ff" stroke-width="4.167" stroke-linecap="square" fill="none"/>
<path d="M135.2,541.6H176.9" stroke="#ff0000" stroke-width="4.167" stroke-linecap="square" fill="none"/>
<text x="193.0" y="458.1" font-size="20.833">Mach = 1</text>
<text x="193.0" y="487.9" font-size="20.833">Mach = 3</text>
<text x="193.0" y="518.8" font-size="20.833">Alfven</text>
<text x="193.0" y="549.0" font-size="20.833">FM</text>
</svg>
</body></html>
